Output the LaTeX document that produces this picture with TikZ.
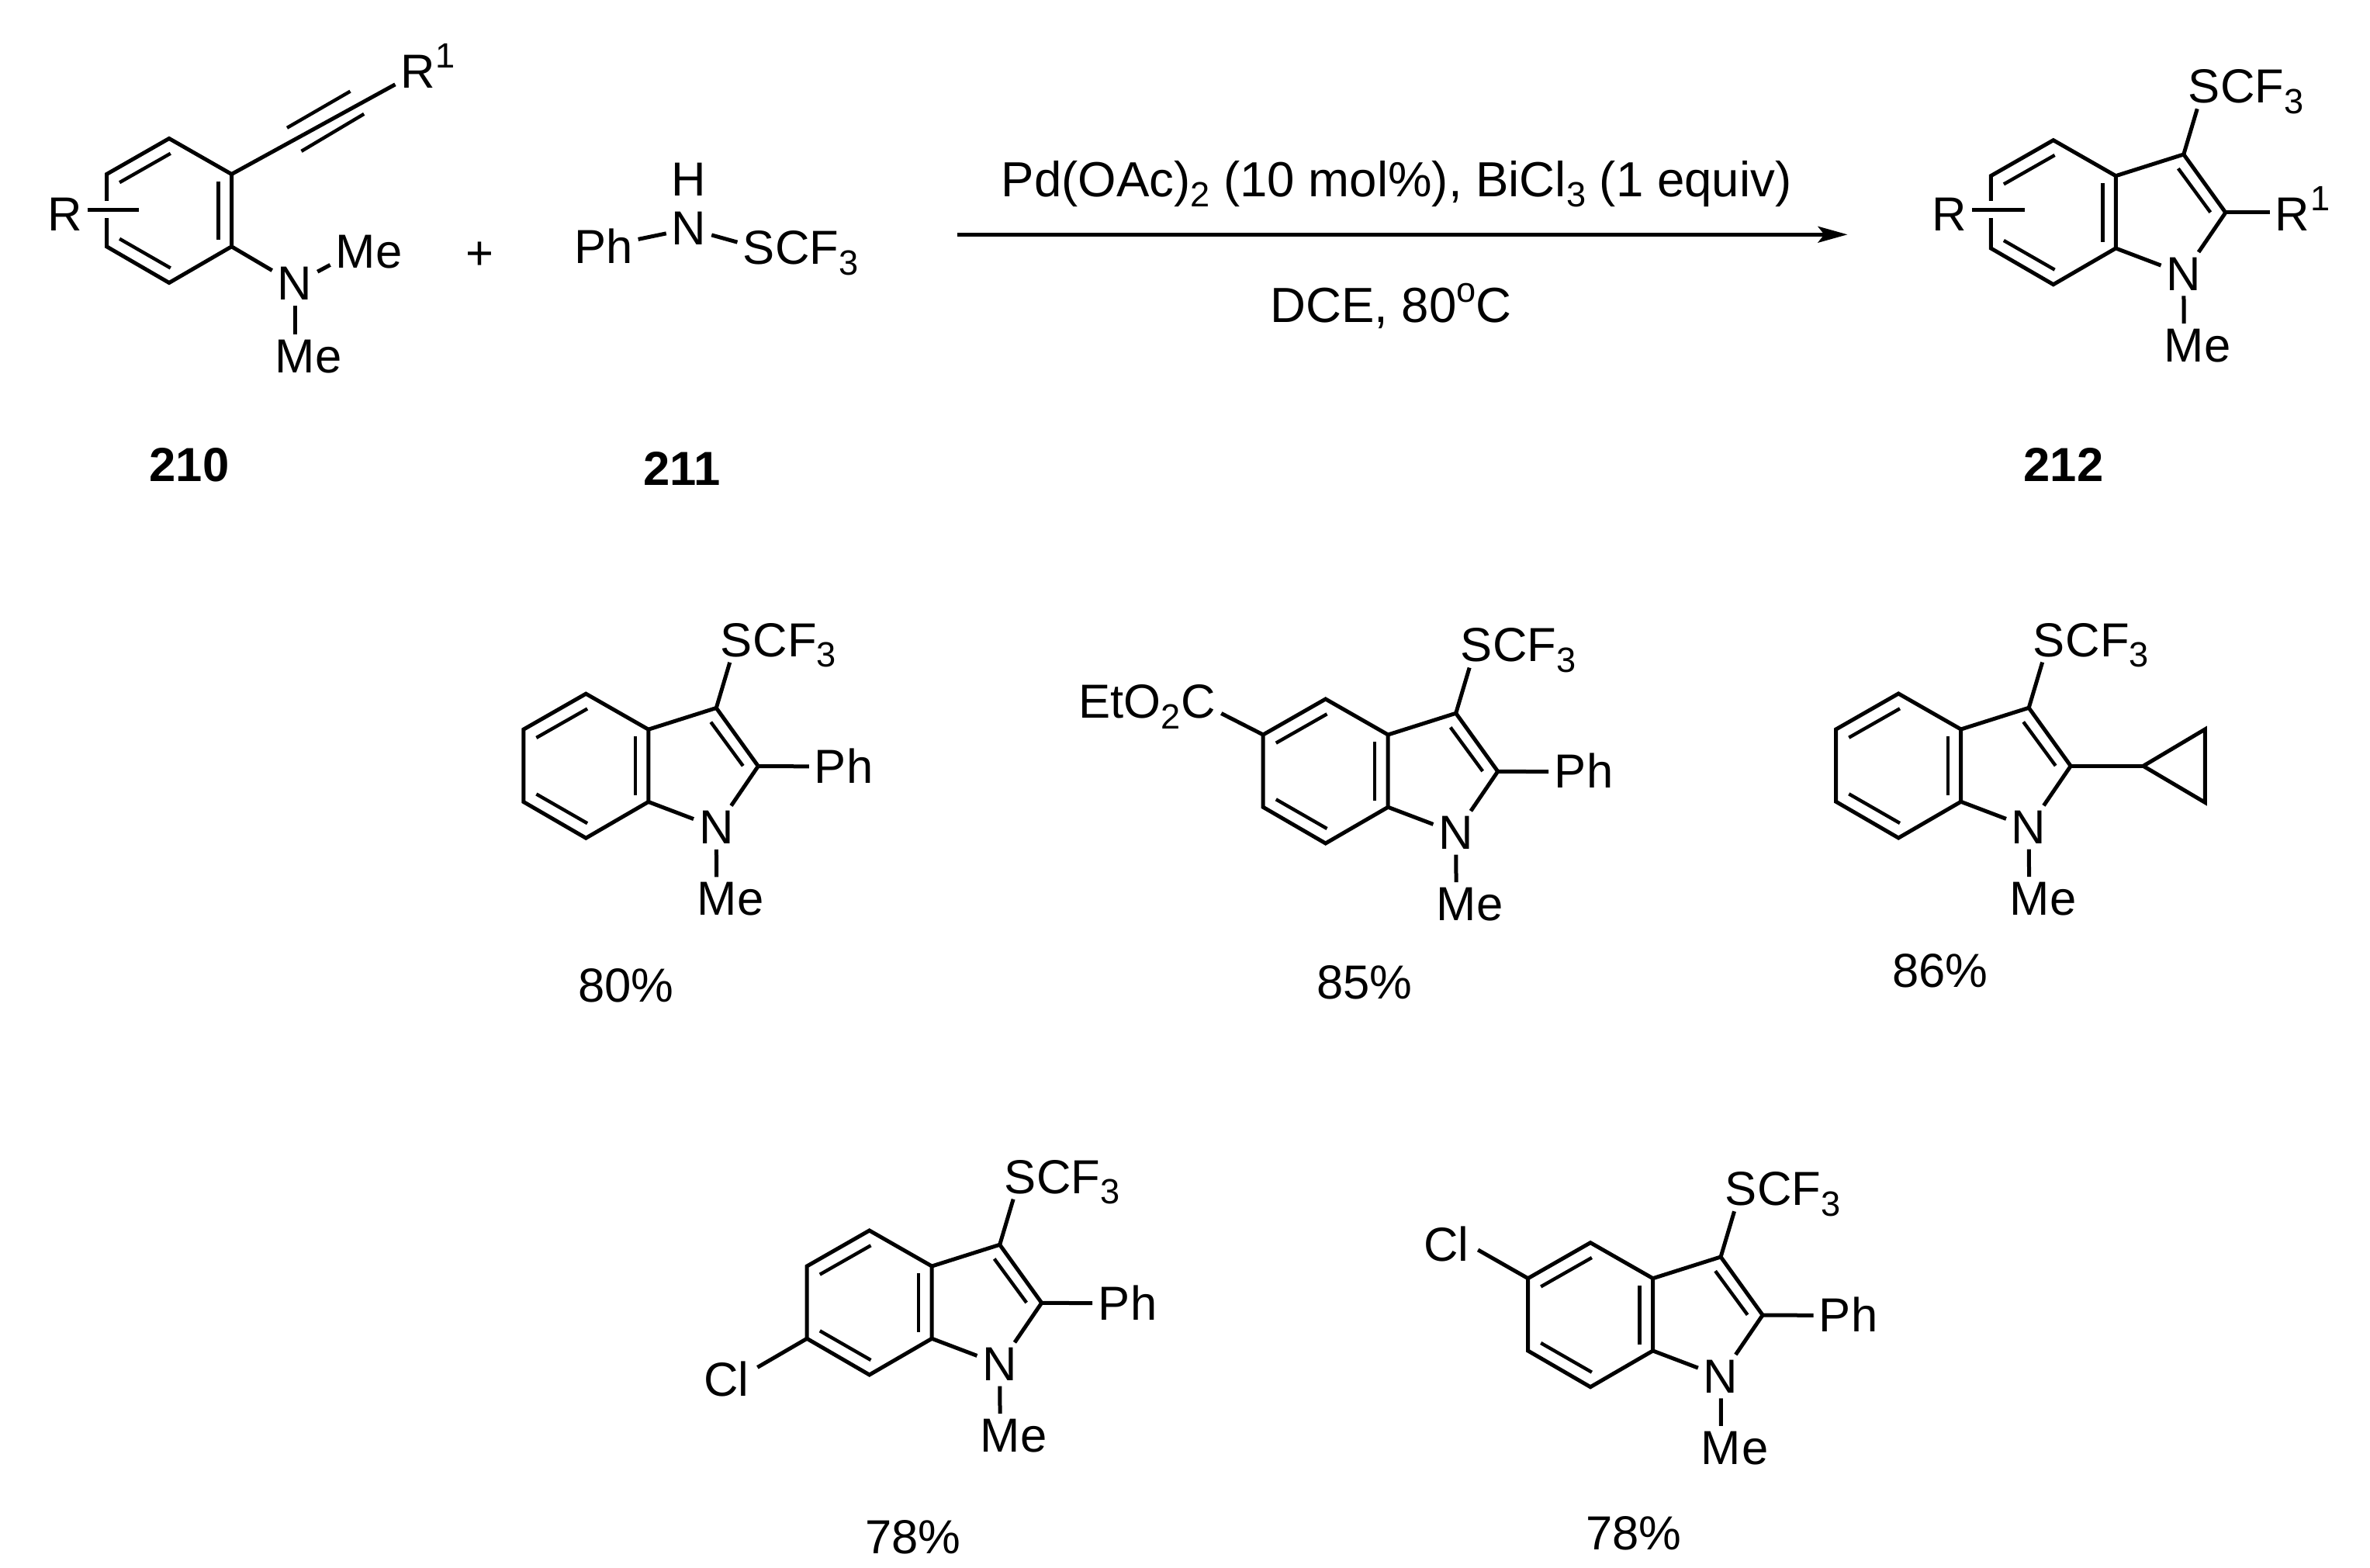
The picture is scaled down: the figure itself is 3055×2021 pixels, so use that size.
\documentclass[tikz,border=0pt]{standalone}
\usepackage{fontspec}
\setmainfont{Liberation Sans}
\usetikzlibrary{arrows.meta}

\begin{document}
\begin{tikzpicture}[x=0.25pt, y=-0.25pt,
    every node/.style={font=\fontsize{15.4}{18}\selectfont},
    bond/.style={line width=1.25pt, line join=miter},
    inbond/.style={line width=1.1pt},
    halo/.style={preaction={draw, white, line width=5.5pt}},
    atom/.style={anchor=base, inner sep=0pt, outer sep=1.75pt},
    tail/.style={anchor=base west, inner sep=0pt, xshift=-1.75pt},
    head/.style={anchor=base east, inner sep=0pt, xshift=1.75pt},
    plain/.style={anchor=base, inner sep=0pt},
    cond/.style={plain, font=\fontsize{15.9}{18}\selectfont},
    cmpd/.style={plain, font=\fontsize{15.4}{18}\selectfont\bfseries}]

  \useasboundingbox (0,0) rectangle (3055,2021);

  \newcommand\chemsub[1]{\raisebox{-3.4pt}{\fontsize{11.3}{13}\selectfont #1}}
  \newcommand\chemsup[1]{\raisebox{6.5pt}{\fontsize{11.3}{13}\selectfont #1}}

  %% atom label: first letter takes the bonds, the rest follows it
  \newcommand\Chem[4]{
    \node[atom] (#1) at (#2) {#3};
    \node[tail] (#1x) at (#1.base east) {#4};
  }

  %% six ring, #2 is the upper carbon of the right hand side
  \newcommand\Benzo[2]{
    \begin{scope}[shift={(#2)}]
      \coordinate (#1a) at (0,0);
      \coordinate (#1b) at (0,93.3);
      \coordinate (#1c) at (-80.5,140);
      \coordinate (#1d) at (-161,93.3);
      \coordinate (#1e) at (-161,0);
      \coordinate (#1f) at (-80.5,-46);
      \coordinate (#1ia) at (-144.4,10.7);
      \coordinate (#1ib) at (-78.7,-26.7);
      \coordinate (#1ic) at (-144.4,83.3);
      \coordinate (#1id) at (-78.7,121);
      \coordinate (#1ie) at (-17,9.3);
      \coordinate (#1if) at (-17,85);
      \draw[bond] (#1a) -- (#1b) -- (#1c) -- (#1d) -- (#1e) -- (#1f) -- cycle;
      \draw[inbond] (#1ia) -- (#1ib);
      \draw[inbond] (#1ic) -- (#1id);
      \draw[inbond] (#1ie) -- (#1if);
    \end{scope}
  }

  \newcommand\Indole[2]{
    \Benzo{#1}{#2}
    \begin{scope}[shift={(#2)}]
      \coordinate (#1p) at (87.5,-27.7);
      \coordinate (#1q) at (141.5,47.3);
      \coordinate (#1ig) at (80.5,-9.5);
      \coordinate (#1ih) at (122,47);
      \node[atom] (#1n) at (87.5,147.7) {N};
      \Chem{#1m}{88,239.5}{M}{e}
      \Chem{#1s}{113.5,-94}{S}{CF\chemsub{3}}
    \end{scope}
    \draw[bond] (#1a) -- (#1p) -- (#1q);
    \draw[inbond] (#1ig) -- (#1ih);
    \draw[bond] (#1q) -- (#1n);
    \draw[bond] (#1b) -- (#1n);
    \draw[bond] (#1n) -- (#1m);
    \draw[bond] (#1p) -- (#1s);
  }

  \newcommand\PhIndole[2]{
    \Indole{#1}{#2}
    \begin{scope}[shift={(#2)}]
      \Chem{#1ph}{234.5,69}{P}{h}
    \end{scope}
    \draw[bond] (#1q) -- (#1ph);
  }

  %% 210
  \Benzo{sm}{298.5,224.5}
  \coordinate (smua) at (370,164.8);
  \coordinate (smub) at (451.5,117.7);
  \coordinate (smva) at (388.5,194.9);
  \coordinate (smvb) at (469.2,146.9);
  \coordinate (smr) at (178.5,270.3);
  \Chem{smro}{538.7,114}{R}{\chemsup{1}}
  \node[atom] (smrs) at (83.4,297.3) {R};
  \node[atom] (smn) at (380,387) {N};
  \Chem{smma}{458.3,345.2}{M}{e}
  \Chem{smmb}{380,480.8}{M}{e}
  \draw[bond] (sma) -- (smro);
  \draw[inbond] (smua) -- (smub);
  \draw[inbond] (smva) -- (smvb);
  \draw[bond, halo] (smrs.east |- smr) -- (smr);
  \draw[bond] (smb) -- (smn);
  \draw[bond] (smn) -- (smma);
  \draw[bond] (smn) -- (smmb);

  \node[plain] (plus) at (618.5,348) {+};

  %% 211
  \node[atom] (amh) at (888,252.8) {H};
  \node[atom] (amn) at (888,316) {N};
  \node[atom] (amp) at (778,340) {Ph};
  \Chem{ams}{978,341}{S}{CF\chemsub{3}}
  \draw[bond] (amp) -- (amn);
  \draw[bond] (amn) -- (ams);

  %% arrow
  \coordinate (arrA) at (1234,302.3);
  \coordinate (arrB) at (2381.5,302.3);
  \draw[bond, -{Stealth[length=9.5pt, width=5.2pt, inset=2pt]}] (arrA) -- (arrB);
  \node[cond] (condA) at (1800,253.3)
    {Pd(OAc)\chemsub{2} (10 mol\%), BiCl\chemsub{3} (1 equiv)};
  \node[cond] (condB) at (1793,416) {DCE, 80\chemsup{o}C};

  %% 212
  \Indole{gn}{2727.3,226.7}
  \Chem{gnro}{2955,297.3}{R}{\chemsup{1}}
  \node[atom] (gnrs) at (2512.5,297.3) {R};
  \coordinate (gnr) at (2609.8,270.3);
  \draw[bond] (gnq) -- (gnro.west |- gnq);
  \draw[bond, halo] (gnrs.east |- gnr) -- (gnr);

  \node[cmpd] (lbA) at (244,621) {210};
  \node[cmpd] (lbB) at (879,625.6) {211};
  \node[cmpd] (lbC) at (2660,621) {212};

  %% products
  \PhIndole{pa}{835.8,940.2}
  \node[plain] (ya) at (807,1291.5) {80\%};

  \PhIndole{pb}{1789.2,947}
  \node[atom] (pbc) at (1545,925.8) {C};
  \node[head] (pbet) at (pbc.base west) {EtO\chemsub{2}};
  \draw[bond] (pbe) -- (pbc);
  \node[plain] (yb) at (1759,1287) {85\%};

  \Indole{pc}{2527.7,940}
  \coordinate (pcu) at (2762.7,987.3);
  \coordinate (pcv) at (2842.3,940);
  \coordinate (pcw) at (2842.3,1034.3);
  \draw[bond] (pcq) -- (pcu);
  \draw[bond] (pcu) -- (pcv) -- (pcw) -- cycle;
  \node[plain] (yc) at (2501,1272.3) {86\%};

  \PhIndole{pd}{1201.2,1632}
  \node[atom] (pdcl) at (936.3,1799.6) {Cl};
  \draw[bond] (pdd) -- ([xshift=1pt, yshift=3.8pt]pdcl.east);
  \node[plain] (yd) at (1177,2002) {78\%};

  \PhIndole{pe}{2130.6,1647.7}
  \node[atom] (pecl) at (1864.3,1625) {Cl};
  \draw[bond] (pee) -- ([xshift=1.2pt, yshift=-2pt]pecl.east);
  \node[plain] (ye) at (2106,1997.2) {78\%};
\end{tikzpicture}
\end{document}
